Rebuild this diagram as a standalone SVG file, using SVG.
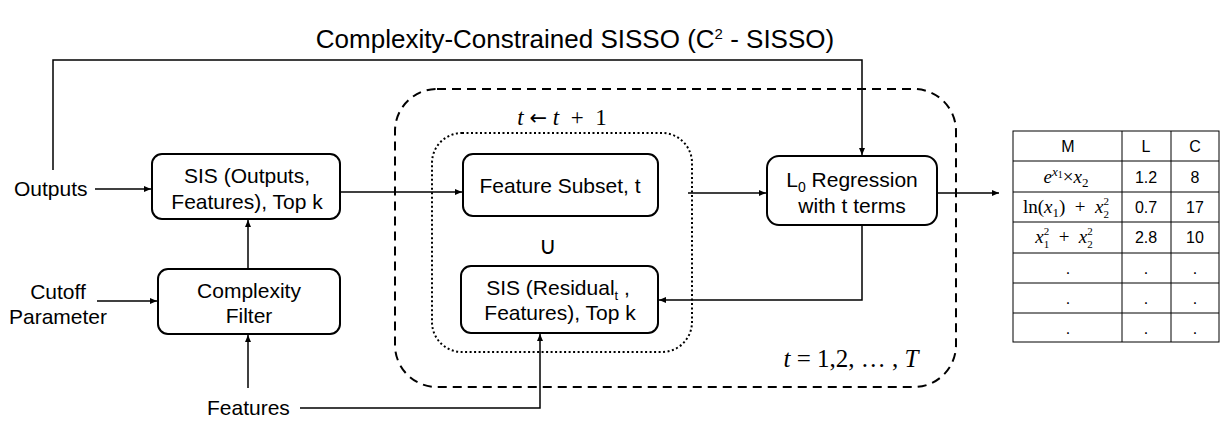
<svg xmlns="http://www.w3.org/2000/svg" width="1225" height="421" viewBox="0 0 1225 421">
<defs>
<marker id="ah" markerWidth="8" markerHeight="8" refX="7" refY="4" orient="auto" markerUnits="userSpaceOnUse">
<path d="M0,1 L7,4 L0,7 Z" fill="#000"/>
</marker>
<style>
.box{fill:#fff;stroke:#000;stroke-width:2}
.t{font-family:"Liberation Sans",Arial,sans-serif;font-size:21px;fill:#000;text-anchor:middle}
.tl{font-family:"Liberation Sans",Arial,sans-serif;font-size:21px;fill:#000}
.m{font-family:"Liberation Serif","Times New Roman",serif;fill:#000}
.c{fill:none;stroke:#000;stroke-width:1.5}
.tb{fill:none;stroke:#000;stroke-width:1}
.tt{font-family:"Liberation Sans",Arial,sans-serif;font-size:16px;fill:#000;text-anchor:middle}
.tm{font-family:"Liberation Serif","Times New Roman",serif;font-size:19px;fill:#000;text-anchor:middle}
</style>
</defs>
<rect width="1225" height="421" fill="#fff"/>
<text class="t" x="575" y="48" style="font-size:26px">Complexity-Constrained SISSO (C<tspan style="font-size:15px" dy="-9">2</tspan><tspan dy="9"> - SISSO)</tspan></text>

<g id="loops">
<rect x="395" y="89" width="561" height="298" rx="42" ry="42" fill="none" stroke="#000" stroke-width="2" stroke-dasharray="9,6"/>
<rect x="432" y="133" width="260" height="219" rx="30" ry="30" fill="none" stroke="#000" stroke-width="2" stroke-dasharray="2,2.5"/>
<text class="m" x="562" y="125" font-size="23" text-anchor="middle" xml:space="preserve"><tspan font-style="italic">t</tspan> <tspan style="font-family:'DejaVu Sans',sans-serif;font-size:21px">←</tspan> <tspan font-style="italic">t</tspan>  +  1</text>
<text class="m" x="851" y="367" font-size="25" text-anchor="middle" xml:space="preserve"><tspan font-style="italic">t</tspan> = 1,2, … , <tspan font-style="italic">T</tspan></text>
<text class="t" x="548" y="254" style="font-size:24px">∪</text>
</g>

<g id="connectors">
<polyline class="c" points="53,170 53,60 862,60 862,155" marker-end="url(#ah)"/>
<line class="c" x1="95" y1="189" x2="151" y2="189" marker-end="url(#ah)"/>
<line class="c" x1="97" y1="301" x2="157" y2="301" marker-end="url(#ah)"/>
<line class="c" x1="248" y1="269" x2="248" y2="220" marker-end="url(#ah)"/>
<line class="c" x1="248" y1="388" x2="248" y2="335" marker-end="url(#ah)"/>
<polyline class="c" points="300,408 540,408 540,334" marker-end="url(#ah)"/>
<line class="c" x1="340" y1="192" x2="462" y2="192" marker-end="url(#ah)"/>
<line class="c" x1="688" y1="193" x2="766" y2="193" marker-end="url(#ah)"/>
<polyline class="c" points="862,225 862,300 659,300" marker-end="url(#ah)"/>
<line class="c" x1="937" y1="193" x2="999" y2="193" marker-end="url(#ah)"/>
</g>

<g id="outputs"><text class="tl" x="14" y="196">Outputs</text></g>
<g id="cutoff"><text class="t" x="58" y="299">Cutoff</text><text class="t" x="58" y="324">Parameter</text></g>
<g id="features"><text class="tl" x="207" y="415">Features</text></g>

<g id="sis-outputs">
<rect class="box" x="152" y="154" width="188" height="65" rx="10"/>
<text class="t" x="247" y="183">SIS (Outputs,</text>
<text class="t" x="247" y="209">Features), Top k</text>
</g>
<g id="complexity-filter">
<rect class="box" x="158" y="269" width="182" height="65" rx="10"/>
<text class="t" x="249" y="298">Complexity</text>
<text class="t" x="249" y="323">Filter</text>
</g>
<g id="feature-subset">
<rect class="box" x="463" y="154" width="195" height="62" rx="10"/>
<text class="t" x="560" y="193">Feature Subset, t</text>
</g>
<g id="sis-residual">
<rect class="box" x="461" y="266" width="197" height="67" rx="10"/>
<text class="t" x="558" y="295">SIS (Residual<tspan style="font-size:13px" dy="5">t</tspan><tspan dy="-5"> ,</tspan></text>
<text class="t" x="560" y="320">Features), Top k</text>
</g>
<g id="l0-regression">
<rect class="box" x="767" y="156" width="170" height="69" rx="12"/>
<text class="t" x="852" y="187">L<tspan style="font-size:14px" dy="5">0</tspan><tspan dy="-5"> Regression</tspan></text>
<text class="t" x="852" y="213">with t terms</text>
</g>

<g id="table">
<rect class="tb" x="1013" y="131" width="206" height="211"/>
<line class="tb" x1="1122" y1="131" x2="1122" y2="342"/>
<line class="tb" x1="1171" y1="131" x2="1171" y2="342"/>
<line class="tb" x1="1013" y1="161" x2="1219" y2="161"/>
<line class="tb" x1="1013" y1="192" x2="1219" y2="192"/>
<line class="tb" x1="1013" y1="222" x2="1219" y2="222"/>
<line class="tb" x1="1013" y1="253" x2="1219" y2="253"/>
<line class="tb" x1="1013" y1="283" x2="1219" y2="283"/>
<line class="tb" x1="1013" y1="313" x2="1219" y2="313"/>
<text class="tt" x="1068" y="152">M</text>
<text class="tt" x="1146" y="152">L</text>
<text class="tt" x="1195" y="152">C</text>
<text class="tm" x="1066" y="183"><tspan font-style="italic">e</tspan><tspan font-style="italic" font-size="13" dy="-7">x</tspan><tspan font-size="10" dy="2">1</tspan><tspan dy="5">×</tspan><tspan font-style="italic">x</tspan><tspan font-size="13" dy="4">2</tspan></text>
<text class="tt" x="1146" y="183">1.2</text>
<text class="tt" x="1195" y="183">8</text>
<text class="tm" x="1066" y="213" xml:space="preserve">ln(<tspan font-style="italic">x</tspan><tspan font-size="13" dy="4">1</tspan><tspan dy="-4">)  +  </tspan><tspan font-style="italic">x</tspan><tspan font-size="11" dy="-8">2</tspan><tspan font-size="11" dx="-5.5" dy="13">2</tspan></text>
<text class="tt" x="1146" y="213">0.7</text>
<text class="tt" x="1195" y="213">17</text>
<text class="tm" x="1064" y="243" xml:space="preserve"><tspan font-style="italic">x</tspan><tspan font-size="11" dy="-8">2</tspan><tspan font-size="11" dx="-5.5" dy="13">1</tspan><tspan dy="-5">  +  </tspan><tspan font-style="italic">x</tspan><tspan font-size="11" dy="-8">2</tspan><tspan font-size="11" dx="-5.5" dy="13">2</tspan></text>
<text class="tt" x="1146" y="243">2.8</text>
<text class="tt" x="1195" y="243">10</text>
<text class="tt" x="1068" y="274">.</text><text class="tt" x="1146" y="274">.</text><text class="tt" x="1195" y="274">.</text>
<text class="tt" x="1068" y="304">.</text><text class="tt" x="1146" y="304">.</text><text class="tt" x="1195" y="304">.</text>
<text class="tt" x="1068" y="334">.</text><text class="tt" x="1146" y="334">.</text><text class="tt" x="1195" y="334">.</text>
</g>
</svg>
